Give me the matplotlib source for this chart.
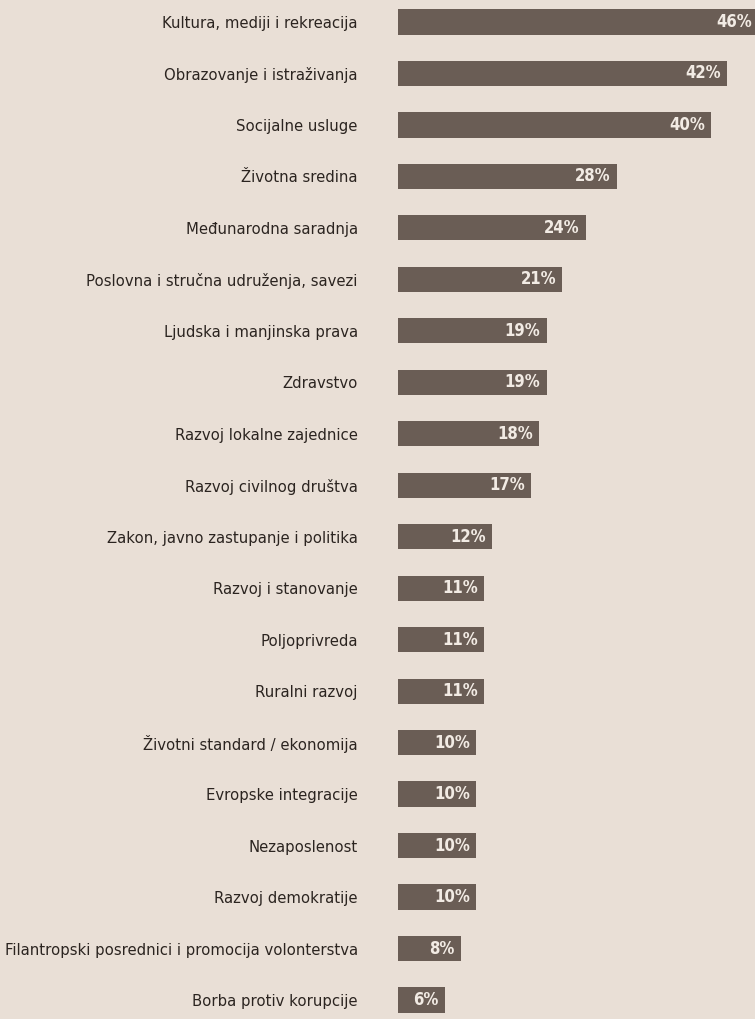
import matplotlib.pyplot as plt

categories = [
    'Kultura, mediji i rekreacija',
    'Obrazovanje i istraživanja',
    'Socijalne usluge',
    'Životna sredina',
    'Međunarodna saradnja',
    'Poslovna i stručna udruženja, savezi',
    'Ljudska i manjinska prava',
    'Zdravstvo',
    'Razvoj lokalne zajednice',
    'Razvoj civilnog društva',
    'Zakon, javno zastupanje i politika',
    'Razvoj i stanovanje',
    'Poljoprivreda',
    'Ruralni razvoj',
    'Životni standard / ekonomija',
    'Evropske integracije',
    'Nezaposlenost',
    'Razvoj demokratije',
    'Filantropski posrednici i promocija volonterstva',
    'Borba protiv korupcije',
]
values = [46, 42, 40, 28, 24, 21, 19, 19, 18, 17, 12, 11, 11, 11, 10, 10, 10, 10, 8, 6]

bg = '#e9dfd6'
bar_color = '#6a5d55'

fig = plt.figure(figsize=(7.55, 10.19), dpi=100, facecolor=bg)
ax = fig.add_axes([398 / 755, 0, 1 - 398 / 755, 1])
ax.set_facecolor(bg)

pos = list(range(len(categories)))
ax.barh(pos, values, height=0.49, color=bar_color)

# value labels inside the bar ends
for p, v in zip(pos, values):
    ax.text(v - 0.8, p, f'{v}%', ha='right', va='center', color='#f2ebe4',
            fontsize=12, fontweight='bold', family='DejaVu Sans', fontstretch='condensed')

ax.set_xlim(0, 45.6)
ax.set_ylim(19 + 19 / 51.5, -22 / 51.5)
ax.set_yticks(pos)
ax.set_yticklabels(categories, fontsize=10.7, color='#2b2420', family='DejaVu Sans')
ax.tick_params(axis='y', length=0, pad=29)
ax.set_xticks([])
for s in ax.spines.values():
    s.set_visible(False)

fig.savefig('out.png', dpi=100, facecolor=bg)
